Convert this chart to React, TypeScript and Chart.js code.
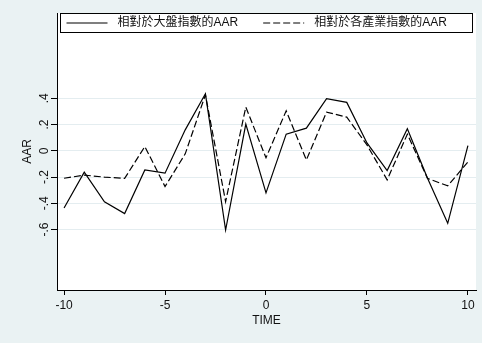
import React, { useEffect, useRef } from "react";
import { Chart, registerables } from "chart.js";

Chart.register(...registerables);

// ---- data ----
const times = [-10, -9, -8, -7, -6, -5, -4, -3, -2, -1, 0, 1, 2, 3, 4, 5, 6, 7, 8, 9, 10];
const marketAAR = [
  -0.435, -0.163, -0.388, -0.478, -0.145, -0.17, 0.16, 0.435, -0.603, 0.204, -0.32,
  0.127, 0.173, 0.397, 0.369, 0.06, -0.15, 0.168, -0.209, -0.552, 0.04,
];
const industryAAR = [
  -0.209, -0.185, -0.2, -0.21, 0.033, -0.272, -0.023, 0.427, -0.387, 0.333, -0.053,
  0.305, -0.069, 0.295, 0.257, 0.045, -0.221, 0.127, -0.21, -0.267, -0.084,
];
const seriesLabels = ["相對於大盤指數的AAR", "相對於各產業指數的AAR"];
const xTicks = [-10, -5, 0, 5, 10];
const yTicks = [-0.6, -0.4, -0.2, 0, 0.2, 0.4];
const xTitle = "TIME";
const yTitle = "AAR";

// ---- styles ----
const FONT = "'Liberation Sans', Arial, 'Noto Sans CJK TC', sans-serif";
const BG = "rgb(234,242,243)";
const GRID = "rgb(228,237,240)";
const TEXT = "#111";
const DASH = [7, 3];

const fmtY = (v: number) => {
  if (Math.abs(v) < 1e-9) return "0";
  return v.toFixed(1).replace(/^(-?)0\./, "$1.");
};

const bgPlugin = {
  id: "bgPlugin",
  beforeDraw(chart: any) {
    const { ctx, chartArea } = chart;
    ctx.save();
    ctx.fillStyle = BG;
    ctx.fillRect(0, 0, chart.width, chart.height);
    ctx.fillStyle = "#fff";
    ctx.fillRect(chartArea.left, chartArea.top, chartArea.right - chartArea.left, chartArea.bottom - chartArea.top);
    ctx.restore();
  },
};

const legendPlugin = {
  id: "boxLegend",
  afterDatasetsDraw(chart: any) {
    const { ctx, chartArea } = chart;
    const x0 = chartArea.left + 3.5;
    const x1 = chartArea.right - 3.5;
    const y0 = chartArea.top + 0.5;
    const y1 = chartArea.top + 19.5;
    ctx.save();
    ctx.fillStyle = "#fff";
    ctx.fillRect(x0, y0, x1 - x0, y1 - y0);
    ctx.strokeStyle = "#000";
    ctx.lineWidth = 1;
    ctx.setLineDash([]);
    ctx.strokeRect(x0, y0, x1 - x0, y1 - y0);
    const yc = (y0 + y1) / 2;
    ctx.font = `12px ${FONT}`;
    ctx.textBaseline = "middle";
    ctx.textAlign = "left";
    ctx.fillStyle = TEXT;
    let x = x0 + 6;
    chart.data.datasets.forEach((ds: any) => {
      ctx.strokeStyle = ds.borderColor;
      ctx.lineWidth = ds.borderWidth;
      ctx.setLineDash(ds.borderDash || []);
      ctx.beginPath();
      ctx.moveTo(x, yc);
      ctx.lineTo(x + 41, yc);
      ctx.stroke();
      ctx.setLineDash([]);
      ctx.fillText(ds.label, x + 51, yc);
      const w = ctx.measureText(ds.label).width;
      x = x + 51 + w + 25;
    });
    ctx.restore();
  },
};

export default function App() {
  const ref = useRef<HTMLCanvasElement | null>(null);

  useEffect(() => {
    document.body.style.margin = "0";
    if (!ref.current) return;
    const chart = new Chart(ref.current, {
      type: "line",
      data: {
        datasets: [
          {
            label: seriesLabels[0],
            data: times.map((t, i) => ({ x: t, y: marketAAR[i] })),
            borderColor: "#000",
            borderWidth: 1.2,
            pointRadius: 0,
            tension: 0,
            fill: false,
          },
          {
            label: seriesLabels[1],
            data: times.map((t, i) => ({ x: t, y: industryAAR[i] })),
            borderColor: "#000",
            borderWidth: 1.2,
            borderDash: DASH,
            pointRadius: 0,
            tension: 0,
            fill: false,
          },
        ],
      },
      options: {
        responsive: false,
        animation: false,
        devicePixelRatio: 1,
        layout: { padding: { left: 0, right: 6, top: 13, bottom: 0 } },
        plugins: { legend: { display: false }, tooltip: { enabled: false } },
        scales: {
          x: {
            type: "linear",
            min: -10.35,
            max: 10.4,
            afterBuildTicks: (s: any) => {
              s.ticks = xTicks.map((v) => ({ value: v }));
            },
            afterFit: (s: any) => {
              s.height = 53;
            },
            grid: { drawOnChartArea: false, drawTicks: true, tickLength: 5, tickColor: "#000", tickWidth: 1 },
            border: { display: true, color: "#000", width: 1 },
            ticks: {
              padding: 3,
              color: TEXT,
              font: { family: FONT, size: 12 },
              minRotation: 0,
              maxRotation: 0,
              callback: (v: any) => String(v),
            },
            title: {
              display: true,
              text: xTitle,
              color: TEXT,
              font: { family: FONT, size: 12 },
              padding: { top: 0, bottom: 15 },
            },
          },
          y: {
            type: "linear",
            min: -1.06,
            max: 1.05,
            afterBuildTicks: (s: any) => {
              s.ticks = yTicks.map((v) => ({ value: v }));
            },
            afterFit: (s: any) => {
              s.width = 57;
            },
            grid: { color: GRID, lineWidth: 1, drawTicks: true, tickLength: 6, tickColor: "#000", tickWidth: 1 },
            border: { display: true, color: "#000", width: 1 },
            ticks: {
              minRotation: 90,
              maxRotation: 90,
              crossAlign: "center",
              padding: -1,
              color: TEXT,
              font: { family: FONT, size: 12 },
              callback: (v: any) => fmtY(Number(v)),
            },
            title: {
              display: true,
              text: yTitle,
              color: TEXT,
              font: { family: FONT, size: 12 },
              padding: { top: 20, bottom: 0 },
            },
          },
        },
      },
      plugins: [bgPlugin, legendPlugin],
    } as any);
    return () => chart.destroy();
  }, []);

  return (
    <div style={{ width: 482, height: 343 }}>
      <canvas ref={ref} width={482} height={343} style={{ display: "block" }} />
    </div>
  );
}
